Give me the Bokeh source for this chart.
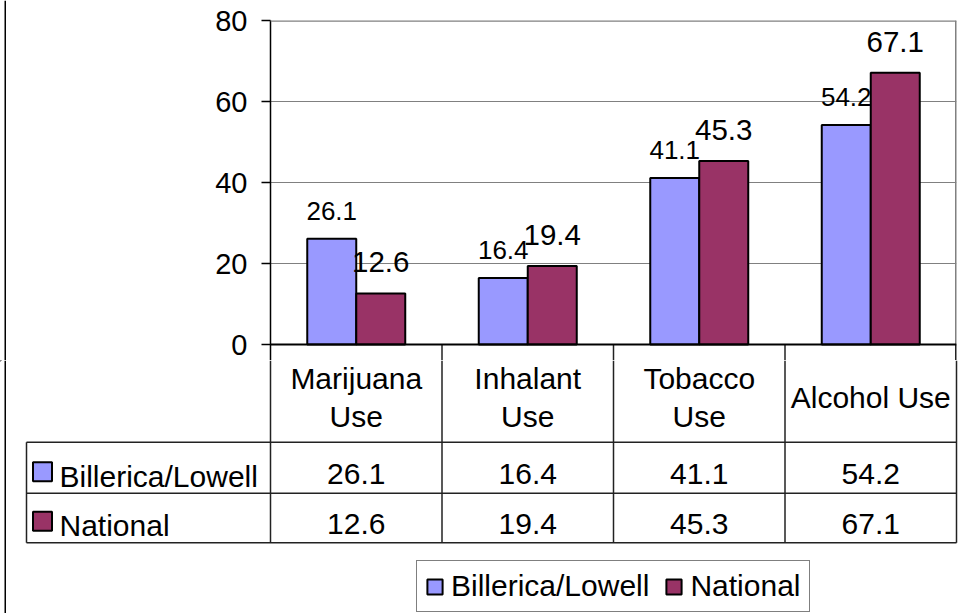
from bokeh.plotting import figure
from bokeh.layouts import column, row
from bokeh.models import (ColumnDataSource, FactorRange, Range1d, FixedTicker, Span,
                          Legend, LegendItem)
from bokeh.transform import dodge
from bokeh.core.properties import value
from bokeh.embed import file_html
from bokeh.resources import INLINE

# ---- data ---------------------------------------------------------------
categories = ["Marijuana Use", "Inhalant Use", "Tobacco Use", "Alcohol Use"]
header_text = ["Marijuana\nUse", "Inhalant\nUse", "Tobacco\nUse", "Alcohol Use"]
series_names = ["Billerica/Lowell", "National"]
billerica = [26.1, 16.4, 41.1, 54.2]
national = [12.6, 19.4, 45.3, 67.1]
y_ticks = [0, 20, 40, 60, 80]

# ---- styling / layout ---------------------------------------------------
BLUE = "#9999FF"
MAROON = "#993366"
GRID = "#808080"
RULE = "#222222"
FONT = "Liberation Sans"
TXT = "30px"
W, H = 964, 613
EDGE_W = 20                             # strip holding the chart's left border
EDGE_X = 4.75                           # canvas x of that border
LEFT, RIGHT, TOP = 270, 8, 20           # plot-area margins (canvas pixels)
ZERO_PX = 344                           # canvas row of the value axis
SPLIT = 360                             # chart / table boundary
CAT_PX = (W - LEFT - RIGHT) / len(categories)
PX_PER_UNIT = (ZERO_PX - TOP) / y_ticks[-1]
BAR_W = 1 / 3.5                         # gap width 150 %
OFF = BAR_W / 2
n = len(categories)

src = ColumnDataSource(dict(
    cat=categories,
    bil=billerica, nat=national,
    bil_txt=[f"{v:.1f}" for v in billerica],
    nat_txt=[f"{v:.1f}" for v in national],
))

NO_BORDER = dict(min_border=0, min_border_left=0, min_border_right=0,
                 min_border_top=0, min_border_bottom=0)


def bare(fig):
    fig.frame_align = False
    fig.outline_line_color = None
    fig.grid.visible = False
    return fig


# ---- left border strip --------------------------------------------------
edge = bare(figure(width=EDGE_W, height=SPLIT, x_range=Range1d(0, EDGE_W),
                   y_range=Range1d(0, SPLIT), x_axis_location=None, y_axis_location=None,
                   output_backend="svg", toolbar_location=None, **NO_BORDER))
edge.segment(x0=[EDGE_X], x1=[EDGE_X], y0=[0], y1=[SPLIT], line_color="black", line_width=1.5)

# ---- bar chart ----------------------------------------------------------
y_bottom = -(SPLIT - ZERO_PX) / PX_PER_UNIT
p = figure(width=W - EDGE_W, height=SPLIT, x_range=FactorRange(factors=categories),
           y_range=Range1d(y_bottom, y_ticks[-1]), x_axis_location=None,
           min_border_left=LEFT - EDGE_W, min_border_right=RIGHT, min_border_top=TOP,
           min_border_bottom=0, output_backend="svg", toolbar_location=None)
p.frame_align = False
p.outline_line_color = None
p.xgrid.visible = False
p.ygrid.grid_line_color = GRID
p.ygrid.grid_line_width = 1.2
p.ygrid.ticker = FixedTicker(ticks=y_ticks)

ax = p.yaxis[0]
ax.ticker = FixedTicker(ticks=y_ticks)
ax.axis_line_color = "black"
ax.axis_line_width = 1.5
ax.major_tick_line_color = "black"
ax.major_tick_line_width = 1.5
ax.major_tick_out = 9
ax.major_tick_in = 0
ax.minor_tick_out = 0
ax.minor_tick_in = 0
ax.major_label_standoff = 14
ax.major_label_text_font = FONT
ax.major_label_text_font_size = "29px"
ax.major_label_text_color = "black"

# plot-area border (top and right) and the upper ends of the table rules
p.add_layout(Span(location=y_ticks[-1], dimension="width", line_color=GRID, line_width=2.5))
p.segment(x0=[n], x1=[n], y0=[0], y1=[y_ticks[-1]], line_color=GRID, line_width=3)
p.segment(x0=list(range(1, n + 1)), x1=list(range(1, n + 1)),
          y0=[y_bottom] * n, y1=[0] * n, line_color=RULE,
          line_width=[1.5] * (n - 1) + [3])

x_bil = dodge("cat", -OFF, range=p.x_range)
x_nat = dodge("cat", OFF, range=p.x_range)

p.vbar(x=x_bil, top="bil", width=BAR_W, source=src,
       fill_color=BLUE, line_color="black", line_width=2)
p.text(x=x_bil, y="bil", text="bil_txt", source=src, text_align="center",
       text_baseline="middle", y_offset=-28, text_font=value(FONT),
       text_font_size="26px", text_color="black")
p.vbar(x=x_nat, top="nat", width=BAR_W, source=src,
       fill_color=MAROON, line_color="black", line_width=2)
p.text(x=x_nat, y="nat", text="nat_txt", source=src, text_align="center",
       text_baseline="middle", y_offset=-31, text_font=value(FONT),
       text_font_size="29.5px", text_color="black")

p.add_layout(Span(location=0, dimension="width", line_color="black", line_width=2))

# ---- data table under the chart -------------------------------------------
# x in category units (category i spans i..i+1), y in canvas pixels
t = bare(figure(width=W, height=H - SPLIT,
                x_range=Range1d(-LEFT / CAT_PX, (W - LEFT) / CAT_PX),
                y_range=Range1d(H, SPLIT),
                x_axis_location=None, y_axis_location=None,
                output_backend="svg", toolbar_location=None, **NO_BORDER))

tbl_left = (26 - LEFT) / CAT_PX
row_bounds = [441.7, 492.7, 542.3]
col_edges = list(range(n + 1))

t.segment(x0=[tbl_left] * 3, x1=[n] * 3, y0=row_bounds, y1=row_bounds,
          line_color=RULE, line_width=1.5)
t.segment(x0=col_edges, x1=col_edges, y0=[SPLIT] * len(col_edges),
          y1=[row_bounds[-1]] * len(col_edges), line_color=RULE, line_width=1.5)
t.segment(x0=[tbl_left], x1=[tbl_left], y0=[row_bounds[0]], y1=[row_bounds[-1]],
          line_color=RULE, line_width=1.5)
# chart border on the left
t.segment(x0=[(EDGE_X - LEFT) / CAT_PX], x1=[(EDGE_X - LEFT) / CAT_PX], y0=[SPLIT], y1=[H],
          line_color="black", line_width=1.5)

# category headers, one text per line, centred in the header cell
hx, hy, ht = [], [], []
head_mid = 396.75
for i, label in enumerate(header_text):
    lines = label.split("\n")
    for j, line in enumerate(lines):
        hx.append(i + 0.5)
        hy.append(head_mid + (j - (len(lines) - 1) / 2) * 38.5)
        ht.append(line)
t.text(x=hx, y=hy, text=ht, text_align="center", text_baseline="middle",
       text_font=value(FONT), text_font_size=TXT, text_color="black")

centers = [i + 0.5 for i in range(n)]
row_vals = [billerica, national]
row_colors = [BLUE, MAROON]
for k, (vals, name, col) in enumerate(zip(row_vals, series_names, row_colors)):
    mid = row_bounds[k + 1] - 19
    t.text(x=centers, y=[mid] * n, text=[f"{v:.1f}" for v in vals],
           text_align="center", text_baseline="middle",
           text_font=value(FONT), text_font_size=TXT, text_color="black")
    t.rect(x=[(42 - LEFT) / CAT_PX], y=[mid - 2.5], width=19, height=19,
           width_units="screen", height_units="screen",
           fill_color=col, line_color="black", line_width=2)
    t.text(x=[(59 - LEFT) / CAT_PX], y=[mid + 2], text=[name],
           text_align="left", text_baseline="middle",
           text_font=value(FONT), text_font_size=TXT, text_color="black")

# legend; its keys come from off-range bar renderers of the table figure
kb = t.vbar(x=[-100], top=[0], width=0.1, fill_color=BLUE, line_color="black", line_width=2)
kn = t.vbar(x=[-100], top=[0], width=0.1, fill_color=MAROON, line_color="black", line_width=2)
legend = Legend(items=[LegendItem(label=series_names[0], renderers=[kb]),
                       LegendItem(label=series_names[1], renderers=[kn])],
                orientation="horizontal", location=(416, 1),
                glyph_width=19, glyph_height=19, label_standoff=7, spacing=15,
                padding=8, margin=0, label_text_font=FONT,
                label_text_font_size=TXT, label_text_color="black",
                border_line_color="black", border_line_width=1,
                background_fill_color="white", background_fill_alpha=1)
t.add_layout(legend)

layout = column(row(edge, p, spacing=0), t, spacing=0)
open("out.html", "w").write(file_html(layout, INLINE))
